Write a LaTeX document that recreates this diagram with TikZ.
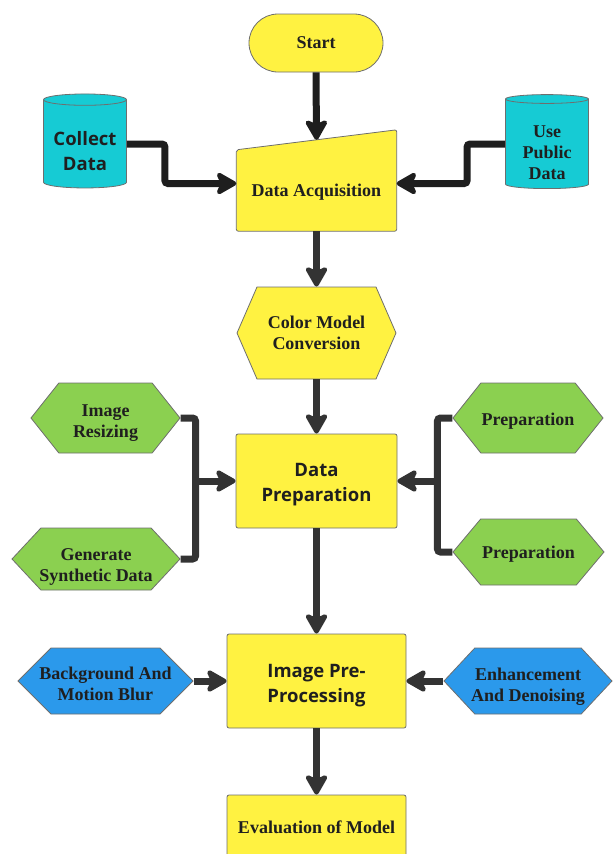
\documentclass[tikz,border=0pt]{standalone}
\usepackage{fontspec}
\setmainfont{Liberation Serif}
\newfontfamily\boxsans{Open Sans}
\usepackage{tikz}
\usetikzlibrary{arrows.meta,shapes.geometric,shapes.symbols,shapes.misc,backgrounds}

\definecolor{boxyellow}{HTML}{FFF241}
\definecolor{storecyan}{HTML}{16CBD4}
\definecolor{leafgreen}{HTML}{8BD050}
\definecolor{skyblue}{HTML}{2B99EB}
\definecolor{arrowdark}{HTML}{1E1E1E}
\definecolor{arrowgray}{HTML}{333333}
\definecolor{edgegray}{HTML}{6E6E6E}

\newcommand{\droptext}[2]{\raisebox{-#1}[\height][\depth]{\begin{tabular}{@{}c@{}}#2\end{tabular}}}

\tikzset{
  serifbold/.style={font=\bfseries\fontsize{18}{21}\selectfont},
  sansbold/.style={font=\boxsans\bfseries\fontsize{18.5}{24.5}\selectfont},
  base/.style={draw=edgegray, line width=0.8pt, text=black!88, align=center, inner sep=0pt, serifbold},
  startbox/.style={base, rounded rectangle, fill=boxyellow},
  stepbox/.style={base, rectangle, rounded corners=2pt, fill=boxyellow},
  store/.style={base, cylinder, shape border rotate=90, aspect=0.18, fill=storecyan},
  hexa/.style={base, signal, signal to=west and east, inner xsep=-20pt},
  inputtext/.style={align=center, inner sep=0pt, text=black!88, serifbold},
  inputshape/.style={draw=edgegray, line width=0.8pt, fill=boxyellow, rounded corners=2pt},
  flow/.style={draw=arrowgray, line width=7pt, rounded corners=3pt,
    -{Stealth[length=24pt, width=27pt, inset=6pt, round]}},
  link/.style={draw=arrowgray, line width=7pt, rounded corners=3pt}
}

\begin{document}
\begin{tikzpicture}[x=1pt, y=-1pt]
    \useasboundingbox (0,0) rectangle (614,854);
    \clip (0,0) rectangle (614,854);

    \node[startbox, minimum width=134pt, minimum height=58pt] (start) at (316,43) {\droptext{1pt}{Start}};
    \node[store, sansbold, minimum width=83pt, minimum height=94pt] (collect) at (85,144) {\droptext{9pt}{Collect\\Data}};
    \node[store, minimum width=83pt, minimum height=94pt] (public) at (547,144) {\droptext{10pt}{Use\\Public\\Data}};
    \node[inputtext, minimum width=160pt, minimum height=81pt] (acq) at (316.5,190.5) {\droptext{2pt}{Data Acquisition}};
    \path (acq.north west) -- ([yshift=20pt]acq.north east) coordinate[pos=.5] (acqtop);
    \begin{pgfonlayer}{background}
      \draw[inputshape] (acq.south west) -- (acq.north west) -- ([yshift=20pt]acq.north east)
        -- (acq.south east) -- cycle;
    \end{pgfonlayer}

    \node[hexa, fill=boxyellow, signal pointer angle=133, minimum width=159pt, minimum height=92pt] (cmc) at (316.5,333) {Color Model\\Conversion};
    \node[stepbox, sansbold, minimum width=161pt, minimum height=94pt] (prep) at (316.5,481) {\droptext{3pt}{Data\\Preparation}};
    \node[hexa, fill=leafgreen, signal pointer angle=103, minimum width=149pt, minimum height=70pt] (resize) at (105.5,418) {\droptext{5pt}{Image\\Resizing}};
    \node[hexa, fill=leafgreen, signal pointer angle=94, minimum width=168pt, minimum height=62pt] (synth) at (96,559) {\droptext{8pt}{Generate\\Synthetic Data}};
    \node[hexa, fill=leafgreen, signal pointer angle=103, minimum width=150pt, minimum height=70pt] (prepa) at (528,418) {\droptext{3pt}{Preparation}};
    \node[hexa, fill=leafgreen, signal pointer angle=100, minimum width=151pt, minimum height=66pt] (prepb) at (528.5,552) {\droptext{2pt}{Preparation}};

    \node[stepbox, sansbold, minimum width=179pt, minimum height=94pt] (pre) at (316.5,681) {\droptext{4pt}{Image Pre-\\Processing}};
    \node[hexa, fill=skyblue, signal pointer angle=90, minimum width=175pt, minimum height=66pt] (blur) at (105.5,681) {\droptext{5pt}{Background And\\Motion Blur}};
    \node[hexa, fill=skyblue, signal pointer angle=94, minimum width=168pt, minimum height=66pt] (enh) at (528,681) {\droptext{6pt}{Enhancement\\And Denoising}};
    \node[stepbox, minimum width=179pt, minimum height=65pt] (eval) at (316.5,827.5) {Evaluation of Model};

    \draw[flow, draw=arrowdark] (start.south) -- (acqtop);
    \draw[flow, draw=arrowdark] (collect.0) -- ++(38,0) |- ([yshift=7pt]acq.west);
    \draw[flow, draw=arrowdark] (public.180) -- ++(-38,0) |- ([yshift=7pt]acq.east);
    \draw[flow] (acq.south) -- (cmc.north);
    \draw[flow] (cmc.south) -- (prep.north);
    \draw[link] (resize.east) -- ++(15,0) coordinate (lbar) |- (synth.east);
    \draw[flow] (lbar |- prep.west) -- (prep.west);
    \draw[link] (prepa.west) -- ++(-15,0) coordinate (rbar) |- (prepb.west);
    \draw[flow] (rbar |- prep.east) -- (prep.east);
    \draw[flow] (prep.south) -- (pre.north);
    \draw[flow] (blur.east) -- (pre.west);
    \draw[flow] (enh.west) -- (pre.east);
    \draw[flow] (pre.south) -- (eval.north);
\end{tikzpicture}
\end{document}
